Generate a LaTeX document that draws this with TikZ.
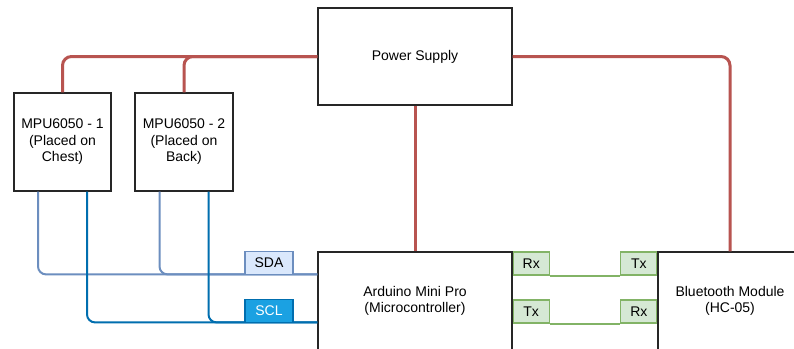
\documentclass[tikz,border=0pt]{standalone}
\usepackage{fontspec}
\setmainfont{Liberation Sans}
\usetikzlibrary{calc}
\definecolor{pwr}{HTML}{B85450}
\definecolor{sdaF}{HTML}{DAE8FC}
\definecolor{sdaS}{HTML}{6C8EBF}
\definecolor{sclF}{HTML}{1BA1E2}
\definecolor{sclS}{HTML}{006EAF}
\definecolor{grF}{HTML}{D5E8D4}
\definecolor{grS}{HTML}{82B366}
\begin{document}
\begin{tikzpicture}[x=1pt,y=-1pt,
  box/.style={draw=black!85,line width=1.2pt,fill=white,inner sep=0pt,align=center,
    font=\fontsize{14}{16.5}\selectfont},
  pwrline/.style={draw=pwr,line width=3pt,rounded corners=9pt},
  sdaline/.style={draw=sdaS,line width=2pt,rounded corners=8pt},
  sclline/.style={draw=sclS,line width=2pt,rounded corners=8pt},
  grline/.style={draw=grS,line width=2pt},
  pin/.style={line width=1.2pt,inner sep=0pt,minimum height=23pt,
    font=\fontsize{14}{16}\selectfont},
  sdapin/.style={pin,draw=sdaS,fill=sdaF,minimum width=48pt},
  sclpin/.style={pin,draw=sclS,fill=sclF,text=white,minimum width=48pt},
  grpin/.style={pin,draw=grS,fill=grF,minimum width=36pt}]
\useasboundingbox (0,0) rectangle (794,348);
\clip (0,0) rectangle (794,348);
\fill[white] (0,0) rectangle (794,348);

% nodes
\node[box,minimum width=194pt,minimum height=97pt] (ps) at (415,56.5) {Power Supply};
\node[box,minimum width=97pt,minimum height=98pt] (m1) at (62.5,142) {MPU6050 - 1\\(Placed on\\Chest)};
\node[box,minimum width=98pt,minimum height=98pt] (m2) at (184,142) {MPU6050 - 2\\(Placed on\\Back)};
\node[box,minimum width=194pt,minimum height=98pt] (ard) at (415,301) {Arduino Mini Pro\\(Microcontroller)};
\node[box,minimum width=144pt,minimum height=98pt] (bt) at (730,301) {Bluetooth Module\\(HC-05)};

% power lines
\draw[pwrline] (ps.west) -| (m1.north);
\draw[pwrline] (ps.west) -| (m2.north);
\draw[pwrline] (ps.east) -| (bt.north);
\draw[pwrline] (ps.south) -- (ard.north);

% I2C lines
\coordinate (sdaend) at ($(ard.north west)+(0,23)$);
\coordinate (sclend) at ($(ard.north west)+(0,71)$);
\coordinate (m1sda) at ($(m1.south)+(-24.5,0)$);
\coordinate (m1scl) at ($(m1.south)+(24.5,0)$);
\coordinate (m2sda) at ($(m2.south)+(-24.5,0)$);
\coordinate (m2scl) at ($(m2.south)+(24.5,0)$);
\draw[sdaline] (m1sda) |- (sdaend);
\draw[sdaline] (m2sda) |- (sdaend);
\draw[sclline] (m1scl) |- (sclend);
\draw[sclline] (m2scl) |- (sclend);

\node[sdapin,anchor=south] (sda) at (269,275) {SDA};
\node[sclpin,anchor=south] (scl) at (269,323) {SCL};

% UART pins
\node[grpin,anchor=north west] (arx) at (ard.north east) {Rx};
\node[grpin,anchor=north west] (atx) at ($(ard.north east)+(0,48)$) {Tx};
\node[grpin,anchor=north east] (btx) at (bt.north west) {Tx};
\node[grpin,anchor=north east] (brx) at ($(bt.north west)+(0,48)$) {Rx};
\draw[grline] (arx.south east) -- (btx.south west);
\draw[grline] (atx.south east) -- (brx.south west);
\end{tikzpicture}
\end{document}
